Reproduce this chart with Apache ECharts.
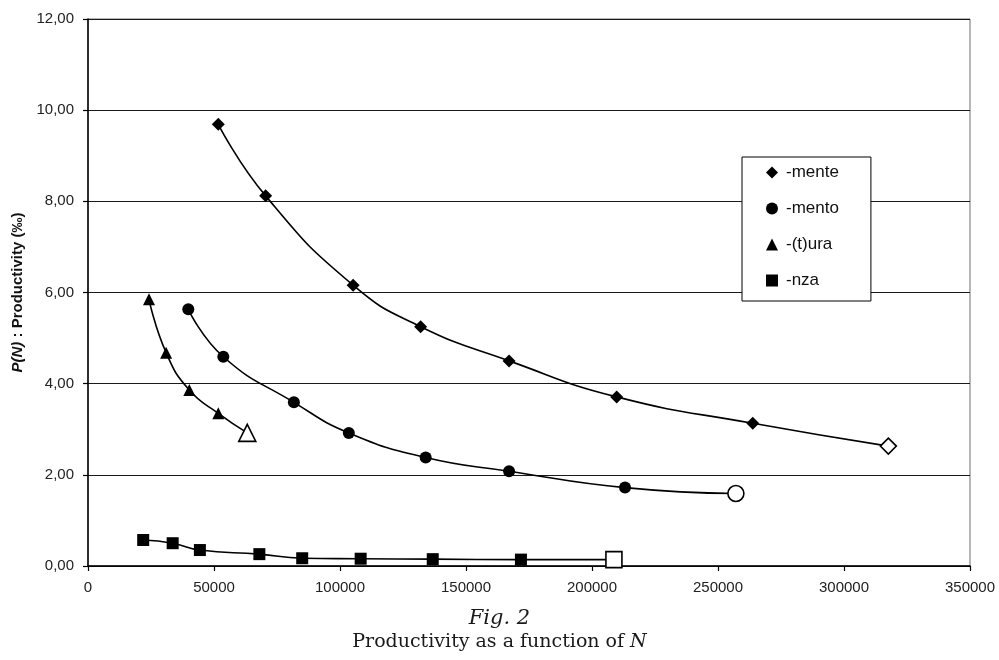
<!DOCTYPE html>
<html>
<head>
<meta charset="utf-8">
<script src="https://cdn.jsdelivr.net/npm/echarts@6/dist/echarts.min.js"></script>
<style>
  html, body { margin: 0; padding: 0; background: #ffffff; }
  #chart { width: 999px; height: 660px; }
</style>
</head>
<body>
<div id="chart"></div>
<script>
// Productivity P(N) (per mille) against corpus size N for four suffixes.
var menteN = [51700, 70500, 105200, 132000, 167100, 209800, 263800, 317600];
var menteP = [9.69, 8.12, 6.16, 5.25, 4.50, 3.71, 3.13, 2.63];

var mentoN = [39800, 53700, 81700, 103500, 134000, 167100, 213100, 257100];
var mentoP = [5.63, 4.59, 3.59, 2.92, 2.38, 2.08, 1.72, 1.59];

var turaN = [24200, 31000, 40200, 51700, 63200];
var turaP = [5.85, 4.68, 3.86, 3.35, 2.92];

var nzaN = [21900, 33600, 44400, 68000, 85000, 108200, 136800, 171800, 208700];
var nzaP = [0.57, 0.50, 0.35, 0.26, 0.17, 0.16, 0.15, 0.14, 0.14];

var seriesNames = ['-mente', '-mento', '-(t)ura', '-nza'];
var seriesSymbols = ['diamond', 'circle', 'triangle', 'rect'];

var xTicks = [0, 50000, 100000, 150000, 200000, 250000, 300000, 350000];
var yTickLabels = ['0,00', '2,00', '4,00', '6,00', '8,00', '10,00', '12,00'];

var figLabel = 'Fig. 2';
var captionText = 'Productivity as a function of ';
var captionVar = 'N';

var SANS = '"Liberation Sans", Arial, sans-serif';
var SERIF = '"DejaVu Serif", serif';

// Pair up x/y arrays; the last point of each series is drawn as an open marker.
function buildPoints(xs, ys, symbol) {
  return xs.map(function (x, i) {
    var pt = { value: [x, ys[i]] };
    if (i === xs.length - 1) {
      pt.symbolSize = symbol === 'triangle' ? 17 : 16;
      pt.itemStyle = { color: '#ffffff', borderColor: '#000000', borderWidth: 1.6 };
    }
    return pt;
  });
}

var sizes = { diamond: 13, circle: 12, triangle: 12, rect: 12 };

function makeSeries(name, xs, ys, symbol) {
  return {
    name: name,
    type: 'line',
    smooth: 0.5,
    symbol: symbol,
    symbolSize: sizes[symbol],
    showAllSymbol: true,
    lineStyle: { color: '#000000', width: 1.6 },
    itemStyle: { color: '#000000' },
    z: 3,
    data: buildPoints(xs, ys, symbol)
  };
}

var chart = echarts.init(document.getElementById('chart'), null, { renderer: 'canvas' });

chart.setOption({
  backgroundColor: '#ffffff',
  animation: false,
  textStyle: { fontFamily: SANS },
  title: [
    {
      text: '{i|' + figLabel + '}',
      left: 'center',
      top: 603,
      textStyle: {
        fontWeight: 'normal',
        rich: {
          i: { fontFamily: SERIF, fontStyle: 'italic', fontWeight: 'normal', fontSize: 21, color: '#1a1a1a' }
        }
      }
    },
    {
      text: '{r|' + captionText + '}{i|' + captionVar + '}',
      left: 'center',
      top: 628,
      textStyle: {
        fontWeight: 'normal',
        rich: {
          r: { fontFamily: SERIF, fontWeight: 'normal', fontSize: 19, color: '#1a1a1a' },
          i: { fontFamily: SERIF, fontStyle: 'italic', fontWeight: 'normal', fontSize: 19, color: '#1a1a1a' }
        }
      }
    }
  ],
  legend: {
    orient: 'vertical',
    left: 742,
    top: 157,
    padding: [7, 32, 12, 24],
    itemGap: 19,
    itemWidth: 12,
    itemHeight: 12,
    backgroundColor: '#ffffff',
    borderColor: '#000000',
    borderWidth: 1,
    textStyle: { fontSize: 17, color: '#111111', fontFamily: SANS, padding: [0, 0, 0, 3] },
    data: seriesNames.map(function (n, i) { return { name: n, icon: seriesSymbols[i] }; })
  },
  grid: {
    left: 88,
    right: 29,
    top: 19,
    bottom: 94,
    show: true,
    borderColor: '#6e6e6e',
    borderWidth: 1,
    backgroundColor: 'transparent'
  },
  xAxis: {
    type: 'value',
    min: xTicks[0],
    max: xTicks[xTicks.length - 1],
    interval: xTicks[1] - xTicks[0],
    axisLine: { show: true, onZero: false, lineStyle: { color: '#000000', width: 1.5 } },
    axisTick: { show: true, inside: false, length: 5, lineStyle: { color: '#000000', width: 1.2 } },
    splitLine: { show: false },
    axisLabel: {
      fontSize: 15, color: '#222222', margin: 14, fontFamily: SANS,
      formatter: function (v) { return String(v); }
    }
  },
  yAxis: {
    type: 'value',
    min: 0,
    max: 12,
    interval: 2,
    name: '{i|P(N)}{b| : Productivity (‰)}',
    nameLocation: 'middle',
    nameRotate: 90,
    nameGap: 59,
    nameTextStyle: {
      rich: {
        i: { fontSize: 15, fontWeight: 'bold', fontStyle: 'italic', color: '#111111', fontFamily: SANS },
        b: { fontSize: 15, fontWeight: 'bold', color: '#111111', fontFamily: SANS }
      }
    },
    axisLine: { show: true, lineStyle: { color: '#000000', width: 1.5 } },
    axisTick: { show: true, inside: false, length: 5, lineStyle: { color: '#000000', width: 1.2 } },
    splitLine: { show: true, lineStyle: { color: '#1a1a1a', width: 1.2 } },
    axisLabel: {
      fontSize: 15,
      color: '#222222',
      margin: 14,
      fontFamily: SANS,
      formatter: function (v) { return yTickLabels[Math.round(v / 2)]; }
    }
  },
  series: [
    makeSeries(seriesNames[0], menteN, menteP, seriesSymbols[0]),
    makeSeries(seriesNames[1], mentoN, mentoP, seriesSymbols[1]),
    makeSeries(seriesNames[2], turaN, turaP, seriesSymbols[2]),
    makeSeries(seriesNames[3], nzaN, nzaP, seriesSymbols[3])
  ]
});
</script>
</body>
</html>
